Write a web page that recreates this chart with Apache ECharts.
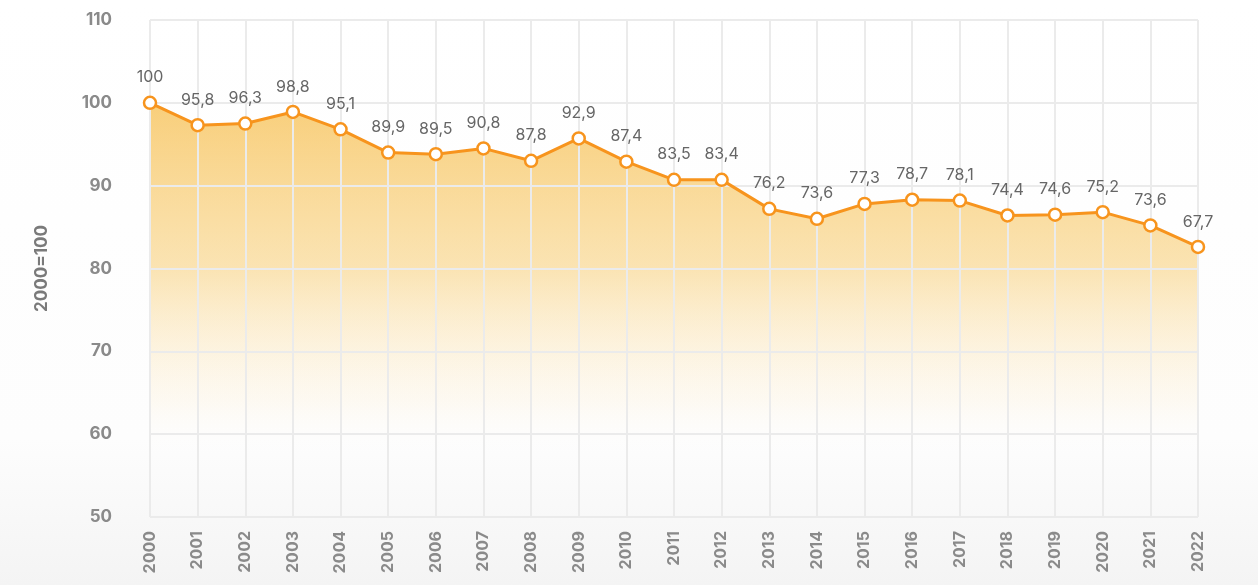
<!DOCTYPE html>
<html lang="en">
<head>
    <meta charset="UTF-8">
    <title>Index 2000=100</title>
    <script src="https://cdn.jsdelivr.net/npm/echarts@6/dist/echarts.min.js"></script>
    <style>
        html, body { margin: 0; padding: 0; background: #fff; }
        #main { width: 1258px; height: 585px; }
    </style>
</head>
<body>
    <div id="main"></div>
    <script type="text/javascript">
    // years on the x axis
    var years = ['2000','2001','2002','2003','2004','2005','2006','2007','2008','2009','2010',
                 '2011','2012','2013','2014','2015','2016','2017','2018','2019','2020','2021','2022'];
    // where the points sit in the picture
    var plotted = [100, 97.3, 97.5, 98.9, 96.8, 94.0, 93.8, 94.5, 93.0, 95.7, 92.9,
                   90.7, 90.7, 87.2, 86.0, 87.8, 88.3, 88.2, 86.4, 86.5, 86.8, 85.2, 82.6];
    // values printed above the points
    var printed = [100, 95.8, 96.3, 98.8, 95.1, 89.9, 89.5, 90.8, 87.8, 92.9, 87.4,
                   83.5, 83.4, 76.2, 73.6, 77.3, 78.7, 78.1, 74.4, 74.6, 75.2, 73.6, 67.7];
    var yTicks = [50, 60, 70, 80, 90, 100, 110];

    var chart = echarts.init(document.getElementById('main'));

    var font = 'Inter, "Open Sans", sans-serif';

    var option = {
        animation: false,
        backgroundColor: {
            type: 'linear', x: 0, y: 0, x2: 0, y2: 1,
            colorStops: [
                { offset: 0, color: '#ffffff' },
                { offset: 0.75, color: '#fdfdfd' },
                { offset: 1, color: '#f4f4f4' }
            ]
        },
        grid: { left: 150, right: 60, top: 20, bottom: 68 },
        xAxis: {
            type: 'category',
            data: years,
            boundaryGap: false,
            axisLine: { show: false },
            axisTick: { show: false },
            splitLine: { show: true, lineStyle: { color: '#ebebeb', width: 2 } },
            axisLabel: {
                rotate: 90,
                margin: 14,
                color: '#8a8a8a',
                fontSize: 16,
                fontWeight: 'bold',
                fontFamily: font
            }
        },
        yAxis: {
            type: 'value',
            min: yTicks[0],
            max: yTicks[yTicks.length - 1],
            interval: 10,
            name: '2000=100',
            nameLocation: 'middle',
            nameGap: 100,
            nameTextStyle: {
                color: '#7a7a7a',
                fontSize: 17,
                fontWeight: 'bold',
                fontFamily: font
            },
            axisLine: { show: false },
            axisTick: { show: false },
            splitLine: { lineStyle: { color: '#ebebeb', width: 2 } },
            axisLabel: {
                margin: 38,
                color: '#8a8a8a',
                fontSize: 17,
                fontWeight: 'bold',
                fontFamily: font
            }
        },
        series: [
            {
                // area only, kept under the grid lines
                type: 'line',
                z: -1,
                data: plotted,
                symbol: 'none',
                lineStyle: { width: 0 },
                areaStyle: {
                    color: {
                        type: 'linear', x: 0, y: 0, x2: 0, y2: 1,
                        colorStops: [
                            { offset: 0, color: 'rgba(245,180,50,0.92)' },
                            { offset: 0.4, color: 'rgba(247,198,95,0.68)' },
                            { offset: 0.72, color: 'rgba(252,225,170,0.2)' },
                            { offset: 0.85, color: 'rgba(255,255,255,0)' }
                        ]
                    }
                },
                silent: true
            },
            {
                type: 'line',
                data: plotted,
                symbol: 'circle',
                symbolSize: 12,
                itemStyle: { color: '#ffffff', borderColor: '#f7941d', borderWidth: 2.5 },
                lineStyle: { color: '#f7941d', width: 3 },
                label: {
                    show: true,
                    position: 'top',
                    distance: 10,
                    color: '#666666',
                    fontSize: 16,
                    fontFamily: font,
                    formatter: function (p) {
                        return String(printed[p.dataIndex]).replace('.', ',');
                    }
                }
            }
        ]
    };

    chart.setOption(option);
    </script>
</body>
</html>
